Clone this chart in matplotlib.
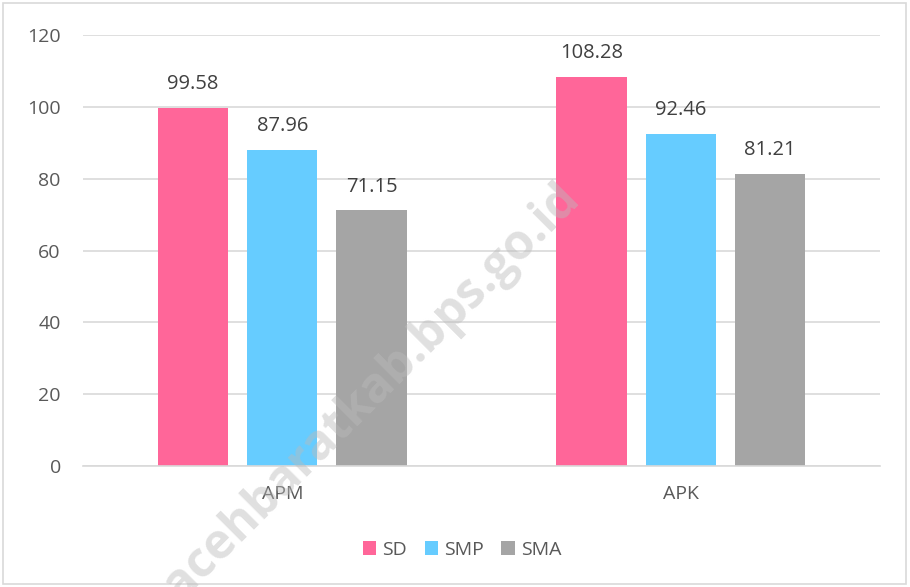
import matplotlib
matplotlib.use("Agg")
import matplotlib.pyplot as plt
import numpy as np
from matplotlib.patches import Rectangle

categories = ["APM", "APK"]
series_names = ["SD", "SMP", "SMA"]
sd = [99.58, 108.28]
smp = [87.96, 92.46]
sma = [71.15, 81.21]
yticks = [0, 20, 40, 60, 80, 100, 120]

colors = ["#FF6699", "#66CCFF", "#A5A5A5"]
text_color = "#595959"
plt.rcParams['font.family'] = ['Open Sans', 'DejaVu Sans']

fig = plt.figure(figsize=(9.10, 5.87), dpi=100)
ax = fig.add_axes([83/910, 1-466/587, (880-83)/910, (466-35)/587])

x = np.arange(len(categories))
bw = 0.176
gap = 0.048
offsets = [-(bw + gap), 0, bw + gap]
for vals, name, c, off in zip([sd, smp, sma], series_names, colors, offsets):
    bars = ax.bar(x + off, vals, width=bw, color=c, label=name, zorder=2)
    for b, v in zip(bars, vals):
        ax.annotate(f"{v:.2f}", (b.get_x() + b.get_width()/2, v),
                    xytext=(0, 10), textcoords="offset points",
                    ha="center", va="bottom", fontsize=14.5, color="#404040")

ax.set_xlim(-0.5, 1.5)
ax.set_ylim(0, 120)
ax.set_yticks(yticks)
ax.set_xticks(x)
ax.set_xticklabels(categories)
ax.grid(axis="y", color="#D9D9D9", linewidth=1.2, zorder=0)
ax.set_axisbelow(True)
for s in ["top", "right", "left"]:
    ax.spines[s].set_visible(False)
ax.spines["bottom"].set_color("#D9D9D9")
ax.spines["bottom"].set_linewidth(1.2)
ax.tick_params(axis="both", length=0, labelsize=14, colors=text_color)
ax.tick_params(axis="y", pad=16)
ax.tick_params(axis="x", pad=14)

handles, labels = ax.get_legend_handles_labels()
fig.legend(handles, labels, loc="center", bbox_to_anchor=(462/910, 1-550/587),
           ncol=3, frameon=False, fontsize=14, handlelength=0.7, handleheight=0.7,
           handletextpad=0.3, columnspacing=0.9, labelcolor=text_color)

fig.text(372/910, 1-392/587, "acehbaratkab.bps.go.id", rotation=45, fontsize=35,
         fontweight="bold", color="#BBBBBB", alpha=0.45, ha="center", va="center",
         zorder=10)

fig.patches.append(Rectangle((3/910, 3/587), 1-7/910, 1-6/587, transform=fig.transFigure,
                             fill=False, edgecolor="#D9D9D9", linewidth=1.2))

fig.savefig("out.png", dpi=100)
